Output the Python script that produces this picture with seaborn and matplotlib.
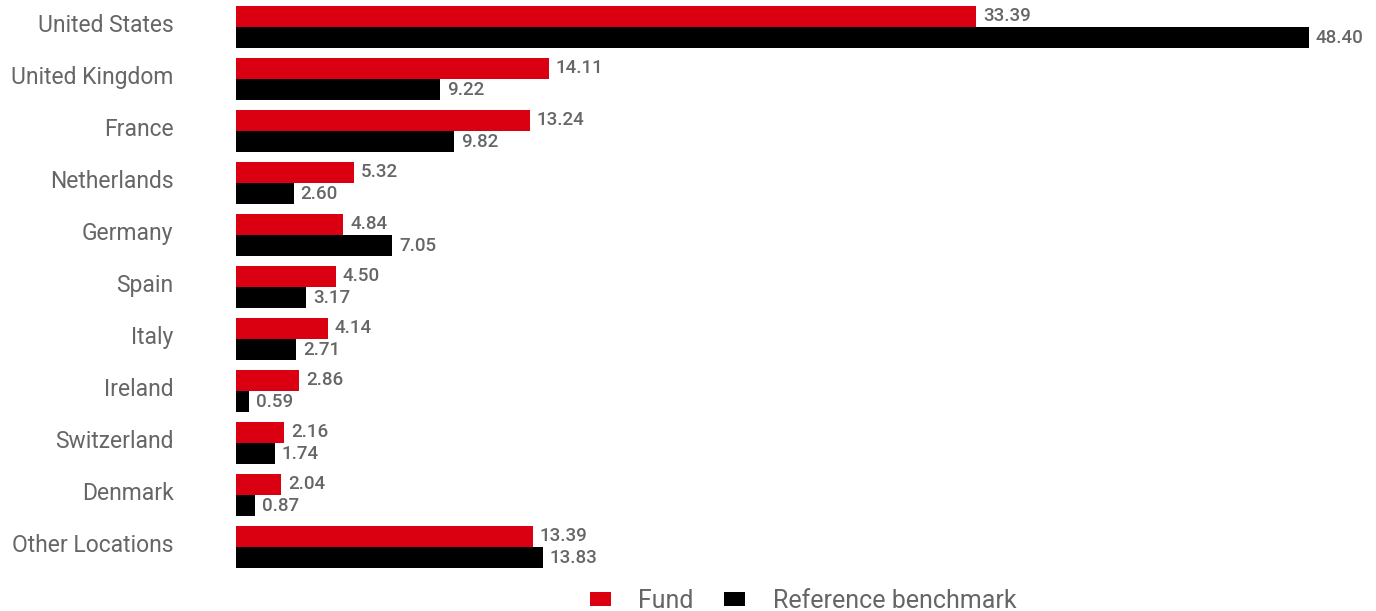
import matplotlib
matplotlib.use("Agg")
import matplotlib.pyplot as plt
import matplotlib.transforms as mtransforms
import seaborn as sns
import pandas as pd

categories = ["United States", "United Kingdom", "France", "Netherlands", "Germany",
              "Spain", "Italy", "Ireland", "Switzerland", "Denmark", "Other Locations"]
fund = [33.39, 14.11, 13.24, 5.32, 4.84, 4.50, 4.14, 2.86, 2.16, 2.04, 13.39]
benchmark = [48.40, 9.22, 9.82, 2.60, 7.05, 3.17, 2.71, 0.59, 1.74, 0.87, 13.83]
series = ["Fund", "Reference benchmark"]
colors = ["#db0011", "#000000"]

df = pd.DataFrame({
    "country": categories * 2,
    "value": fund + benchmark,
    "series": [series[0]] * len(fund) + [series[1]] * len(benchmark),
})

sns.set_theme(style="white")
plt.rcParams["font.family"] = ["Roboto", "DejaVu Sans"]
text_color = "#666666"

fig = plt.figure(figsize=(13.76, 6.11), dpi=100)
ax = fig.add_axes([236 / 1376, 1 - 575 / 611, (1370 - 236) / 1376, 575 / 611])

sns.barplot(data=df, y="country", x="value", hue="series", order=categories,
            hue_order=series, palette=colors, orient="h", width=0.82,
            saturation=1, linewidth=0, ax=ax, legend=True)

for cont in ax.containers:
    ax.bar_label(cont, fmt="%.2f", padding=5, color=text_color, fontsize=13.5,
                 fontweight="medium")

ax.set_xlim(0, 1134 / 22.17)
ax.set_ylim((575 - 27) / 52, -27 / 52)
ax.set_xlabel("")
ax.set_ylabel("")
ax.set_xticks([])
for s in ax.spines.values():
    s.set_visible(False)
ax.tick_params(axis="y", length=0, pad=45, labelsize=16.5, labelcolor=text_color)
offset = mtransforms.ScaledTranslation(0, 4 / 100, fig.dpi_scale_trans)
for t in ax.get_yticklabels():
    t.set_verticalalignment("center_baseline")
    t.set_transform(t.get_transform() + offset)

handles, labels = ax.get_legend_handles_labels()
ax.legend(handles, labels, loc="center", bbox_to_anchor=(0.5, -0.045), ncol=2,
          frameon=False, fontsize=18, labelcolor=text_color, handlelength=0.85,
          handleheight=0.45, handletextpad=1.1, columnspacing=1.2)

fig.savefig("out.png", dpi=100)
